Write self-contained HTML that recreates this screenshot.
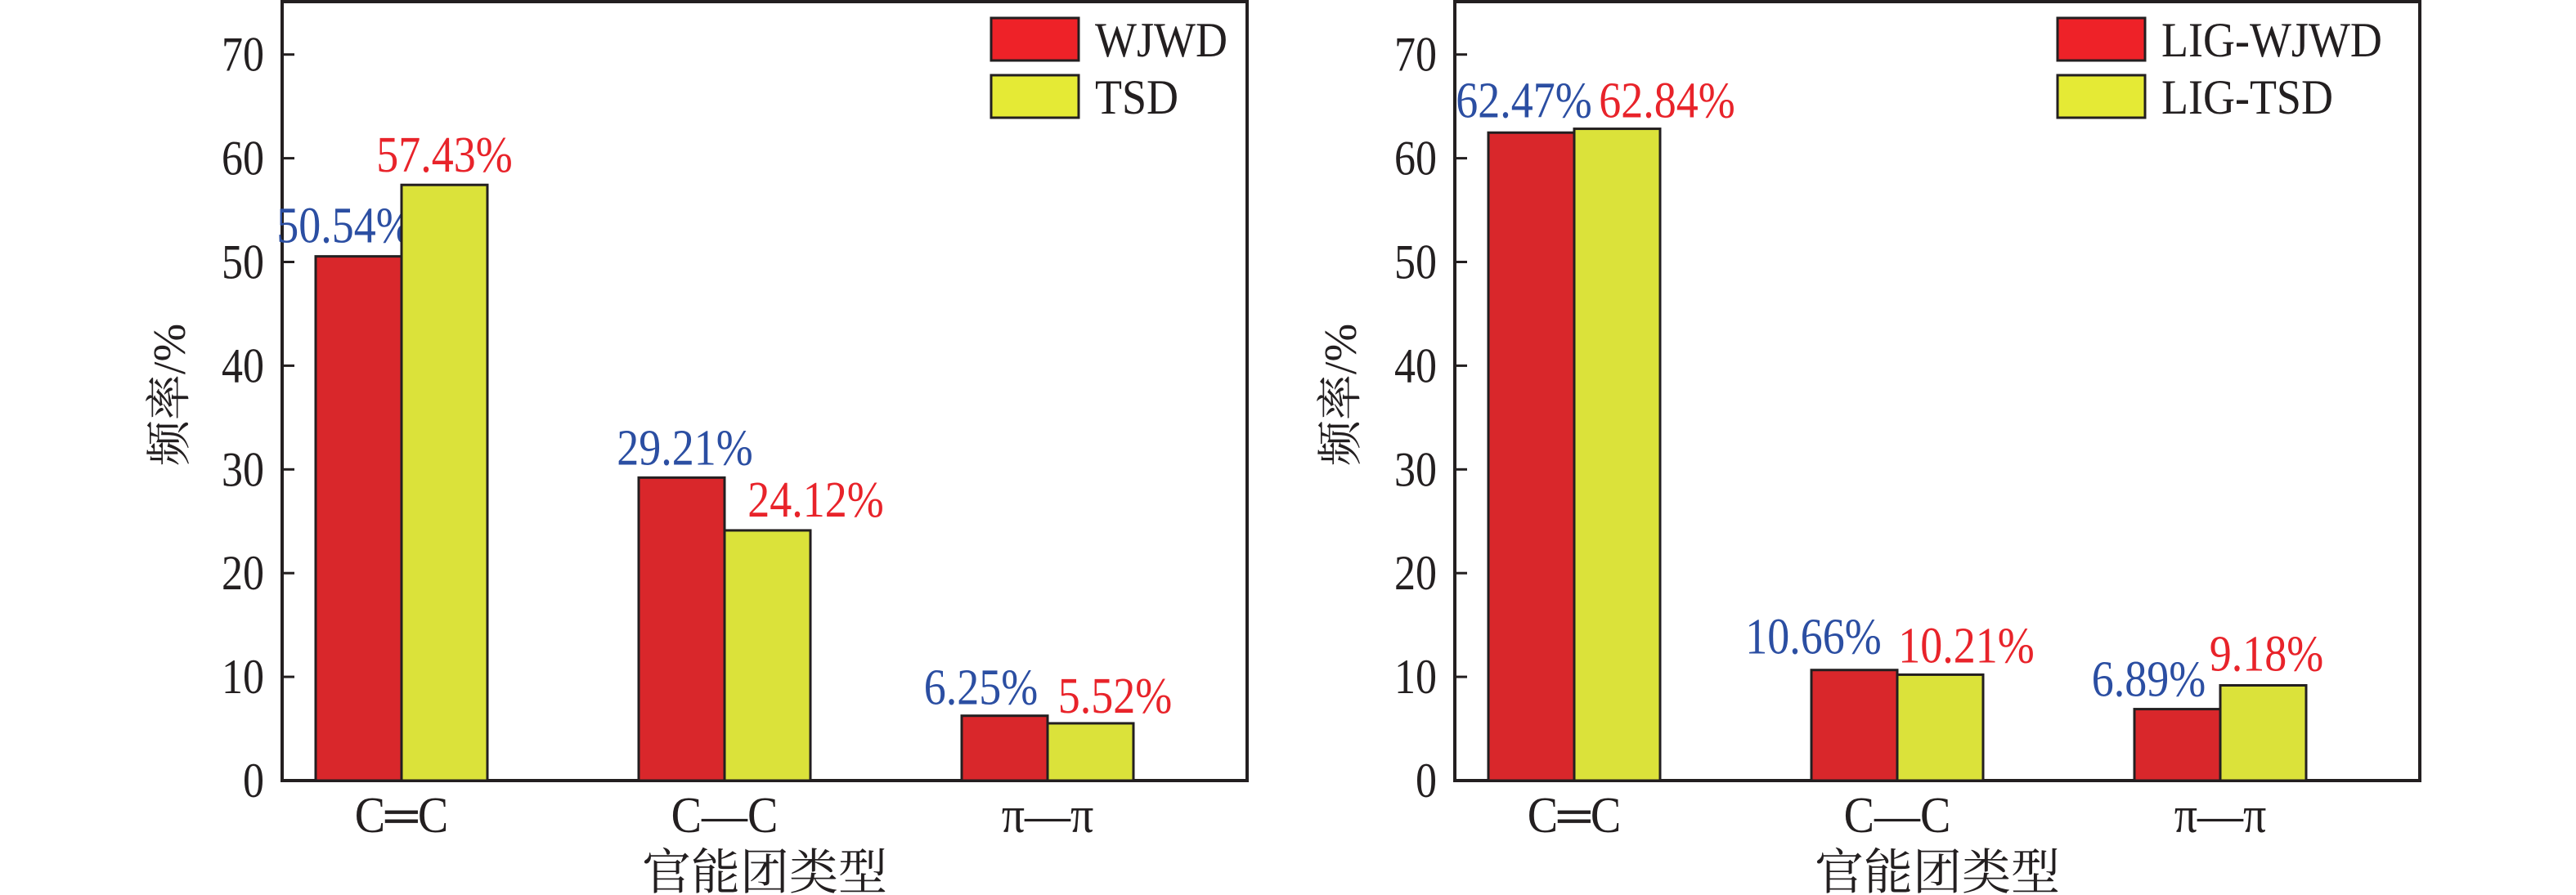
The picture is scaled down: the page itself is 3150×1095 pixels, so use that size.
<!DOCTYPE html>
<html><head><meta charset="utf-8"><style>
html,body{margin:0;padding:0;background:#fff;}
svg{display:block;}
text{font-family:"Liberation Serif","Noto Serif CJK SC",serif;fill:#231f20;}
</style></head>
<body>
<svg id="chart" width="3150" height="1095" viewBox="0 0 3150 1095" xmlns="http://www.w3.org/2000/svg"></svg>
<script>
const categories = ["C═C", "C—C", "π—π"];
const leftSeriesA = [50.54, 29.21, 6.25];
const leftSeriesB = [57.43, 24.12, 5.52];
const rightSeriesA = [62.47, 10.66, 6.89];
const rightSeriesB = [62.84, 10.21, 9.18];
const leftNames = ["WJWD", "TSD"];
const rightNames = ["LIG-WJWD", "LIG-TSD"];
const yTicks = [0, 10, 20, 30, 40, 50, 60, 70];

const NS = "http://www.w3.org/2000/svg";
const svg = document.getElementById("chart");
function mk(tag, attrs, parent) {
  const e = document.createElementNS(NS, tag);
  for (const k in attrs) e.setAttribute(k, attrs[k]);
  (parent || svg).appendChild(e);
  return e;
}
// condense text: measure at base size, then enlarge keeping width
function condense(t, base, big) {
  const w = t.getComputedTextLength();
  t.setAttribute("font-size", big);
  t.setAttribute("textLength", w);
  t.setAttribute("lengthAdjust", "spacingAndGlyphs");
}
const baseY = 955, pxPerUnit = 12.69, topY = 2, barW = 105, groupGap = 395;
function yScale(v) { return baseY - v * pxPerUnit; }

function panel(ox, sA, sB, names, labelOffsets, legendX, ytitleX) {
  const g = mk("g", {});
  
  
  const frame = mk("rect", {x: ox, y: topY, width: 1180, height: baseY - topY, fill: "none", stroke: "#231f20", "stroke-width": 4}, g);
  
  
  yTicks.forEach(t => {
    const y = yScale(t);
    const tk = mk("line", {x1: ox, x2: ox + 15, y1: y, y2: y, stroke: "#231f20", "stroke-width": 3}, g);
    
    
    const tl = mk("text", {x: ox - 22, y: y + 20, "text-anchor": "end", "font-size": 52}, g);
    tl.textContent = t;
    
    
    condense(tl, 52, 60);
  });
  categories.forEach((c, i) => {
    const cx = ox + 146 + i * groupGap;
    [[sA[i], "#d9272b", 0, "#2b4ea2"], [sB[i], "#dbe23a", 1, "#e8232a"]].forEach(([v, col, k, lc]) => {
      const x = cx + (k - 1) * barW;
      const b = mk("rect", {x: x, y: yScale(v), width: barW, height: baseY - yScale(v), fill: col, stroke: "#231f20", "stroke-width": 3}, g);
      
      
      const off = labelOffsets[i][k];
      const lt = mk("text", {x: x + barW / 2 + off[0], y: yScale(v) + off[1], "text-anchor": "middle", "font-size": 54, style: "fill:" + lc}, g);
      lt.textContent = v.toFixed(2) + "%";
      
      
      condense(lt, 54, 62);
    });
    const cl = mk("text", {x: cx, y: 1018, "text-anchor": "middle", "font-size": 56}, g);
    cl.textContent = c;
    
    
    condense(cl, 56, 62);
  });
  const xt = mk("text", {x: ox + 590, y: 1088, "text-anchor": "middle", "font-size": 60}, g);
  xt.textContent = "官能团类型";
  
  
  const yt = mk("text", {x: 0, y: 0, "text-anchor": "middle", "font-size": 56, transform: "translate(" + ytitleX + ",483) rotate(-90)"}, g);
  yt.textContent = "频率/%";
  
  
  [["#ee2228", 22], ["#e5ea35", 92]].forEach(([col, y], k) => {
    const lb = mk("rect", {x: legendX, y: y, width: 107, height: 52, fill: col, stroke: "#231f20", "stroke-width": 3}, g);
    
    
    const lt = mk("text", {x: legendX + 127, y: y + 47, "font-size": 54}, g);
    lt.textContent = names[k];
    
    
    condense(lt, 54, 60);
  });
}
panel(345, leftSeriesA, leftSeriesB, leftNames,
  [[[-17, -17], [0, -16]], [[4, -16], [59, -17]], [[-29, -14], [30, -13]]], 1212, 226);
panel(1779, rightSeriesA, rightSeriesB, rightNames,
  [[[-9, -19], [61, -14]], [[-50, -20], [32, -15]], [[-35, -16], [4, -18]]], 2516, 1658);
</script>
</body></html>
